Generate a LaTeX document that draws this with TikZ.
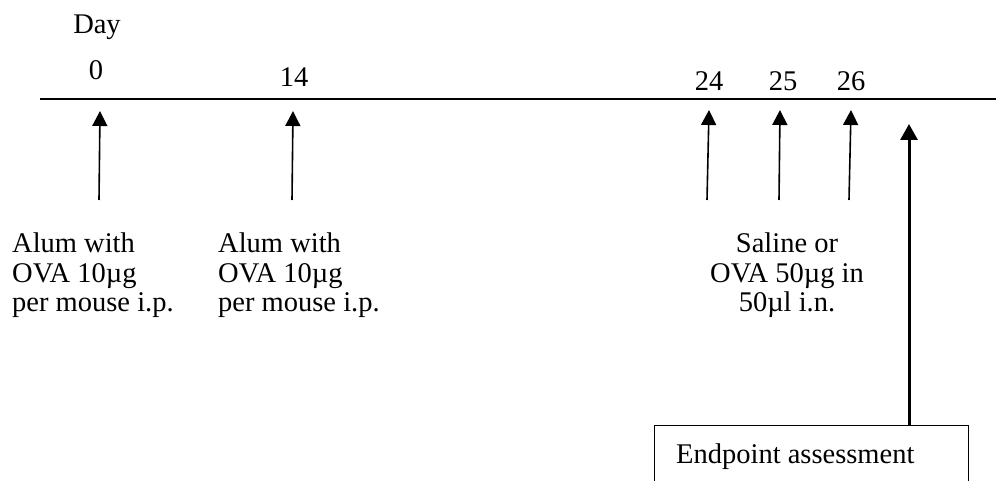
\documentclass[tikz,border=0pt]{standalone}
\usepackage{fontspec}
\setmainfont{Liberation Serif}
\usetikzlibrary{arrows.meta}

\tikzset{
  lbl/.style={inner sep=0pt, font=\fontsize{28.5}{29.5}\selectfont},
  txtblock/.style={lbl, align=left, anchor=north west},
  dose/.style={line width=1.6pt, -{Triangle[length=15pt,width=15pt]}},
  endarrow/.style={line width=3pt, -{Triangle[length=16pt,width=17pt]}},
  axis/.style={line width=2pt},
  endbox/.style={draw, line width=1.3pt, minimum width=314pt, minimum height=90pt, anchor=north west, inner sep=0pt}
}

\begin{document}
\begin{tikzpicture}[x=1pt, y=-1pt]
  \useasboundingbox (0,0) rectangle (996,481);

  % time axis
  \coordinate (axL) at (40,99);
  \coordinate (axR) at (1000,99);
  \draw[axis] (axL) -- (axR);

  % day labels
  \node[lbl] (day)  at (97,27)  {Day};
  \node[lbl] (d0)   at (96,70)  {0};
  \node[lbl] (d14)  at (294,77) {14};
  \node[lbl] (d24)  at (709,81) {24};
  \node[lbl] (d25)  at (783,81) {25};
  \node[lbl] (d26)  at (851,81) {26};

  % injection arrows
  \coordinate (t0)  at (99,200);  \coordinate (h0)  at (100,111);
  \coordinate (t14) at (292,200); \coordinate (h14) at (293,111);
  \coordinate (t24) at (707,200); \coordinate (h24) at (709,110);
  \coordinate (t25) at (779,200); \coordinate (h25) at (780,110);
  \coordinate (t26) at (849,200); \coordinate (h26) at (851,110);
  \draw[dose] (t0) -- (h0);
  \draw[dose] (t14) -- (h14);
  \draw[dose] (t24) -- (h24);
  \draw[dose] (t25) -- (h25);
  \draw[dose] (t26) -- (h26);

  % treatment descriptions
  \node[txtblock] (sens1) at (12,233)  {Alum with\\OVA 10µg\\per mouse i.p.};
  \node[txtblock] (sens2) at (218,233) {Alum with\\OVA 10µg\\per mouse i.p.};
  \node[lbl, align=center, anchor=north] (chal) at (787,233) {Saline or\\OVA 50µg in\\50µl i.n.};

  % endpoint box and arrow
  \node[endbox] (endbox) at (654,425) {};
  \node[lbl, anchor=base west] (endtxt) at (676,463) {Endpoint assessment};
  \coordinate (hend) at (909,124);
  \draw[endarrow] (endbox.north -| hend) -- (hend);
\end{tikzpicture}
\end{document}
